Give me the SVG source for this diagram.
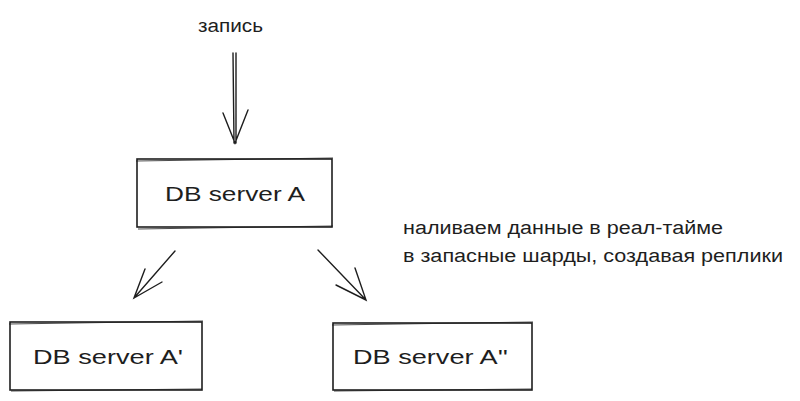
<svg xmlns="http://www.w3.org/2000/svg" width="800" height="401" viewBox="0 0 800 401">
<style>
.box{fill:#fff;stroke:#1e1e1e;stroke-width:1.6}
.sk{fill:none;stroke:#1e1e1e;stroke-width:1;opacity:.8}
.lbl{font-family:"Liberation Sans","DejaVu Sans",sans-serif;font-size:21px;fill:#1e1e1e}
.note{font-family:"Liberation Sans","DejaVu Sans",sans-serif;font-size:18px;fill:#1e1e1e}
.con{fill:none;stroke:#1e1e1e;stroke-width:1.4;stroke-linecap:round}
</style>
<rect width="800" height="401" fill="#fff"/>
<text class="note" x="198" y="32" textLength="65" lengthAdjust="spacingAndGlyphs">запись</text>
<g id="connectors">
<path class="con" d="M233,53 L234,143 M236,53 L236,143 M223,113 L235,143 L248,110"/>
<path class="con" d="M175,251 L134,298 M145,269 L134,298 L162,282"/>
<path class="con" d="M318,250 L366,300 M355,268 L366,300 L336,285"/>
</g>
<g id="nodeA">
<rect class="box" x="137" y="159" width="195" height="68"/>
<path class="sk" d="M136,161 L333,158 M138,229 L333,226"/>
<text class="lbl" x="165" y="201" textLength="140" lengthAdjust="spacingAndGlyphs">DB server A</text>
</g>
<g id="nodeA1">
<rect class="box" x="10" y="322" width="192" height="68"/>
<path class="sk" d="M9,324 L203,321 M11,391 L202,389"/>
<text class="lbl" x="33" y="364" textLength="150" lengthAdjust="spacingAndGlyphs">DB server A'</text>
</g>
<g id="nodeA2">
<rect class="box" x="333" y="323" width="199" height="67"/>
<path class="sk" d="M332,325 L533,322 M334,391 L532,389"/>
<text class="lbl" x="353" y="364" textLength="155" lengthAdjust="spacingAndGlyphs">DB server A''</text>
</g>
<text class="note" x="403" y="234" textLength="320" lengthAdjust="spacingAndGlyphs">наливаем данные в реал-тайме</text>
<text class="note" x="403" y="262" textLength="380" lengthAdjust="spacingAndGlyphs">в запасные шарды, создавая реплики</text>
</svg>
